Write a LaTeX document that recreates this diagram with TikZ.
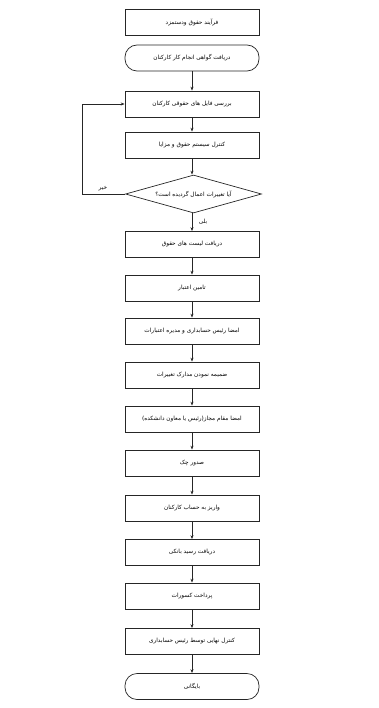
\documentclass[tikz,border=0pt]{standalone}
\usepackage{fontspec}
\newfontfamily\arabicfont[Script=Arabic]{DejaVu Sans}
\TeXXeTstate=1
\usetikzlibrary{shapes.geometric,arrows.meta}
\newcommand{\fa}[1]{\beginR #1\endR}
\begin{document}
\begin{tikzpicture}[x=1bp,y=-1bp,
  base/.style={draw=black!85, line width=0.7bp, inner sep=0pt, font=\fontsize{5.8}{7}\selectfont\arabicfont},
  proc/.style={base, rectangle, minimum width=134bp, minimum height=26bp},
  term/.style={proc, rounded corners=12bp},
  dec/.style={base, diamond, aspect=3.6, minimum width=136bp, minimum height=38bp},
  lbl/.style={inner sep=1pt, font=\fontsize{5.8}{7}\selectfont\arabicfont},
  conn/.style={draw=black!85, line width=0.7bp, -{Stealth[length=4bp,width=3bp]}}]
\useasboundingbox (0,0) rectangle (378,708);
\node[proc] (n1)  at (192,22.5) {\fa{فرآیند حقوق ودستمزد}};
\node[term] (n2)  at (192,58)   {\fa{دریافت گواهی انجام کار کارکنان}};
\node[proc] (n3)  at (192,104)  {\fa{بررسی فایل های حقوقی کارکنان}};
\node[proc] (n4)  at (192,145)  {\fa{کنترل سیستم حقوق و مزایا}};
\node[dec]  (n5)  at (193.5,194) {\fa{آیا تغییرات اعمال گردیده است؟}};
\node[proc] (n6)  at (192,244.5) {\fa{دریافت لیست های حقوق}};
\node[proc] (n7)  at (192,288)  {\fa{تامین اعتبار}};
\node[proc] (n8)  at (192,331)  {\fa{امضا رئیس حسابداری و مدیره اعتبارات}};
\node[proc] (n9)  at (192,375)  {\fa{ضمیمه نمودن مدارک تغییرات}};
\node[proc] (n10) at (192,419)  {\fa{امضا مقام مجاز(رئیس یا معاون دانشکده)}};
\node[proc] (n11) at (192,463)  {\fa{صدور چک}};
\node[proc] (n12) at (192,508)  {\fa{واریز به حساب کارکنان}};
\node[proc] (n13) at (192,552.5) {\fa{دریافت رسید بانکی}};
\node[proc] (n14) at (192,596)  {\fa{پرداخت کسورات}};
\node[proc] (n15) at (192,641.5) {\fa{کنترل نهایی توسط رئیس حسابداری}};
\node[term] (n16) at (192,686.5) {\fa{بایگانی}};
\coordinate (fb) at (82,194);
\path[conn] (n2) -- (n3);
\path[conn] (n3) -- (n4);
\path[conn] (n4) -- (n4 |- n5.north);
\path[conn] (n5.south -| n6) -- (n6);
\foreach \a/\b in {n6/n7,n7/n8,n8/n9,n9/n10,n10/n11,n11/n12,n12/n13,n13/n14,n14/n15,n15/n16}
  \path[conn] (\a) -- (\b);
\path[conn] (n5.west) -- (fb) |- (n3.west);
\node[lbl] (no)  at (103,189) {\fa{خیر}};
\node[lbl] (yes) at (203,222) {\fa{بلی}};
\end{tikzpicture}
\end{document}
